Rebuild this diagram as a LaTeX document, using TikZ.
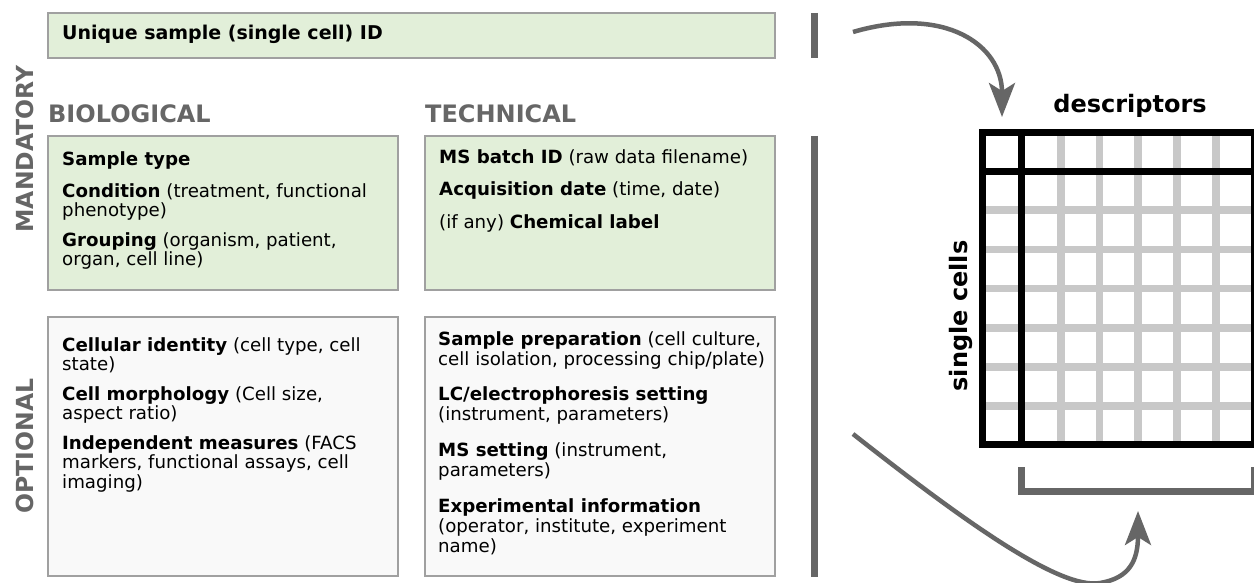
\documentclass[tikz,border=0pt]{standalone}
\usepackage{fontspec}
\setmainfont{DejaVu Sans}
\usetikzlibrary{arrows.meta}
\definecolor{boxgreen}{HTML}{E2EFD9}
\definecolor{boxgray}{HTML}{F9F9F9}
\definecolor{edgegray}{HTML}{A0A0A0}
\definecolor{headgray}{HTML}{666666}
\definecolor{gridgray}{HTML}{C8C8C8}
\begin{document}
\begin{tikzpicture}[x=1pt,y=-1pt,
  mbox/.style={draw=edgegray, line width=1.5pt, fill=boxgreen, inner sep=0pt},
  obox/.style={draw=edgegray, line width=1.5pt, fill=boxgray, inner sep=0pt},
  itemtxt/.style={anchor=base west, inner sep=0pt, font=\fontsize{18.2}{19.5}\selectfont},
  heading/.style={anchor=base west, inner sep=0pt, text=headgray, font=\fontsize{24}{24}\selectfont\bfseries},
  sidelabel/.style={anchor=base, inner sep=0pt, rotate=90, text=headgray, font=\fontsize{23.5}{24}\selectfont\bfseries},
  mlabel/.style={anchor=base, inner sep=0pt, font=\fontsize{24}{24}\selectfont\bfseries},
  bar/.style={draw=headgray, line width=7pt},
  flow/.style={draw=headgray, line width=4.5pt, -{Stealth[length=34pt,width=26pt,inset=8pt]}},
  gridline/.style={draw=gridgray, line width=7.5pt},
  frameline/.style={draw=black, line width=6.5pt},
  bracket/.style={draw=headgray, line width=6.5pt, line join=miter},
]
\useasboundingbox (0,0) rectangle (1254,583);
\clip (0,0) rectangle (1254,583);
\fill[white] (0,0) rectangle (1254,583);

% boxes
\node[mbox, minimum width=727pt, minimum height=45pt] (idbox) at (411.5,35.5) {};
\node[mbox, minimum width=350pt, minimum height=154pt] (bioM) at (223,213) {};
\node[mbox, minimum width=350pt, minimum height=154pt] (techM) at (600,213) {};
\node[obox, minimum width=350pt, minimum height=259pt] (bioO) at (223,446.5) {};
\node[obox, minimum width=350pt, minimum height=259pt] (techO) at (600,446.5) {};

% headings
\node[heading] (hbio) at (48,123) {BIOLOGICAL};
\node[heading] (htech) at (425,123) {TECHNICAL};
\node[sidelabel] (hmand) at (33,149) {MANDATORY};
\node[sidelabel] (hopt) at (33,446) {OPTIONAL};

% texts
\node[itemtxt, font=\fontsize{19}{19}\selectfont] (tid) at (62,40) {\textbf{Unique sample (single cell) ID}};

\node[itemtxt] (b1) at (62,166) {\textbf{Sample type}};
\node[itemtxt] (b2) at (62,197) {\parbox[t]{330pt}{\raggedright\textbf{Condition} (treatment, functional\\phenotype)}};
\node[itemtxt] (b3) at (62,246) {\parbox[t]{330pt}{\raggedright\textbf{Grouping} (organism, patient,\\organ, cell line)}};

\node[itemtxt] (t1) at (439,164) {\textbf{MS batch ID} (raw data filename)};
\node[itemtxt] (t2) at (439,196) {\textbf{Acquisition date} (time, date)};
\node[itemtxt] (t3) at (439,229) {(if any) \textbf{Chemical label}};

\node[itemtxt] (o1) at (62,351) {\parbox[t]{330pt}{\raggedright\textbf{Cellular identity} (cell type, cell\\state)}};
\node[itemtxt] (o2) at (62,400) {\parbox[t]{330pt}{\raggedright\textbf{Cell morphology} (Cell size,\\aspect ratio)}};
\node[itemtxt] (o3) at (62,449) {\parbox[t]{330pt}{\raggedright\textbf{Independent measures} (FACS\\markers, functional assays, cell\\imaging)}};

\node[itemtxt, font=\fontsize{18.2}{20}\selectfont] (p1) at (438,345) {\parbox[t]{330pt}{\raggedright\textbf{Sample preparation} (cell culture,\\cell isolation, processing chip/plate)}};
\node[itemtxt, font=\fontsize{18.2}{20}\selectfont] (p2) at (438,400) {\parbox[t]{330pt}{\raggedright\textbf{LC/electrophoresis setting}\\(instrument, parameters)}};
\node[itemtxt, font=\fontsize{18.2}{20}\selectfont] (p3) at (438,456) {\parbox[t]{330pt}{\raggedright\textbf{MS setting} (instrument,\\parameters)}};
\node[itemtxt, font=\fontsize{18.2}{20}\selectfont] (p4) at (438,512) {\parbox[t]{330pt}{\raggedright\textbf{Experimental information}\\(operator, institute, experiment\\name)}};

% side bars
\coordinate (bar1t) at (814.5,13);
\coordinate (bar1b) at (814.5,58);
\coordinate (bar2t) at (814.5,136);
\coordinate (bar2b) at (814.5,577);
\draw[bar] (bar1t) -- (bar1b);
\draw[bar] (bar2t) -- (bar2b);

% matrix
\foreach \gx in {1061,1099.5,1138,1177,1216}
  \draw[gridline] (\gx,132.5) -- (\gx,444.5);
\foreach \gy in {210,249.5,288.5,328,367,406}
  \draw[gridline] (982.5,\gy) -- (1254.5,\gy);
\draw[frameline] (982.5,132.5) rectangle (1254.5,444.5);
\draw[frameline] (1021.5,132.5) -- (1021.5,444.5);
\draw[frameline] (982.5,171.5) -- (1254.5,171.5);
\coordinate (mtop) at (1002,117);
\coordinate (mbot) at (1138,511);

\node[mlabel] (desc) at (1130,113) {descriptors};
\node[mlabel, rotate=90] (cells) at (967,316) {single cells};

% bracket
\draw[bracket] (1021.5,467) -- (1021.5,491.5) -- (1254.5,491.5) -- (1254.5,467);

% arrows
\coordinate (a1s) at (853,32);
\coordinate (a2s) at (853,434);
\draw[flow] (a1s) .. controls (945,5) and (1002,45) .. (mtop);
\draw[flow] (a2s) .. controls (965,522) and (1060,590) .. (1100,583) .. controls (1130,578) and (1138,560) .. (mbot);
\end{tikzpicture}
\end{document}
